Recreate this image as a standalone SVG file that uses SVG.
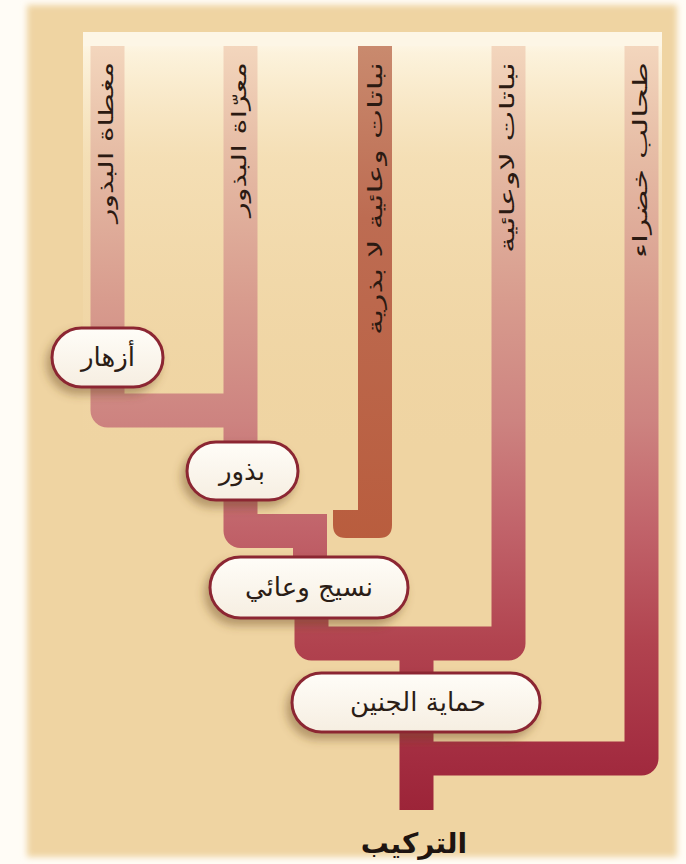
<svg xmlns="http://www.w3.org/2000/svg" width="686" height="864" viewBox="0 0 686 864">
<defs>
<linearGradient id="gPink" gradientUnits="userSpaceOnUse" x1="0" y1="46" x2="0" y2="812">
<stop offset="0" stop-color="#f3d6bd"/>
<stop offset="0.14" stop-color="#e6bca5"/>
<stop offset="0.33" stop-color="#d89c8e"/>
<stop offset="0.49" stop-color="#cd8380"/>
<stop offset="0.63" stop-color="#c1636a"/>
<stop offset="0.78" stop-color="#b1434f"/>
<stop offset="0.93" stop-color="#a32c40"/>
<stop offset="1" stop-color="#9c2438"/>
</linearGradient>
<linearGradient id="gBrown" gradientUnits="userSpaceOnUse" x1="0" y1="46" x2="0" y2="540">
<stop offset="0" stop-color="#c98a6e"/>
<stop offset="0.35" stop-color="#bd6c52"/>
<stop offset="1" stop-color="#b95d3e"/>
</linearGradient>
<linearGradient id="gGlow" x1="0" y1="0" x2="0" y2="1">
<stop offset="0" stop-color="#fffbf2" stop-opacity="1"/>
<stop offset="0.05" stop-color="#fdf4df" stop-opacity="0.95"/>
<stop offset="0.3" stop-color="#f8e6c2" stop-opacity="0.6"/>
<stop offset="1" stop-color="#f1d7a6" stop-opacity="0"/>
</linearGradient>
<linearGradient id="gNode" x1="0" y1="0" x2="0" y2="1">
<stop offset="0" stop-color="#fffdf8"/>
<stop offset="1" stop-color="#f6eee1"/>
</linearGradient>
<filter id="shadow" x="-30%" y="-30%" width="160%" height="190%">
<feDropShadow dx="-4" dy="6" stdDeviation="5" flood-color="#6b4a20" flood-opacity="0.45"/>
</filter>
<filter id="soft" x="-5%" y="-5%" width="110%" height="110%">
<feGaussianBlur stdDeviation="3"/>
</filter>
<style>
.bar{fill:none;stroke:url(#gPink);stroke-width:34;stroke-linejoin:round;stroke-linecap:butt}
.node rect{fill:url(#gNode);stroke:#8c2733;stroke-width:3;filter:url(#shadow)}
.node text{font-family:'DejaVu Sans',sans-serif;font-size:26px;fill:#2b1d16;text-anchor:middle}
.vlab{font-family:'DejaVu Sans',sans-serif;font-size:20px;fill:#2b1a12;text-anchor:end}
.title{font-family:'DejaVu Sans',sans-serif;font-size:28px;font-weight:bold;fill:#1e1410;text-anchor:middle}
</style>
</defs>

<rect x="0" y="0" width="686" height="864" fill="#fffcf6"/>
<rect x="27" y="5" width="650" height="852" fill="#efd4a2" filter="url(#soft)"/>
<rect x="83" y="32" width="579" height="420" fill="url(#gGlow)"/>

<g id="connectors">
<path class="bar" d="M107.5 46 V410.5 H240.5"/>
<path class="bar" d="M240.5 46 V531 H327"/>
<path class="bar" d="M310 531 V565"/>
<path id="brown" d="M358 46 H392 V525 Q392 538 379 538 H346 Q333 538 333 525 V510 H358 Z" fill="url(#gBrown)"/>
<path class="bar" d="M508.5 46 V643.5 H311.5 V600"/>
<path class="bar" d="M416.5 643.5 V690"/>
<path class="bar" d="M641.5 46 V758.5 H416.5"/>
<path class="bar" d="M416.5 700 V810"/>
</g>

<rect x="83" y="32" width="579" height="14" fill="#fdf6e6"/>

<g id="labels">
<text class="vlab" transform="translate(113,62) rotate(-90)" textLength="161" lengthAdjust="spacingAndGlyphs">مغطاة البذور</text>
<text class="vlab" transform="translate(246,62) rotate(-90)" textLength="155" lengthAdjust="spacingAndGlyphs">معرّاة البذور</text>
<text class="vlab" transform="translate(382,62) rotate(-90)" textLength="273" lengthAdjust="spacingAndGlyphs">نباتات وعائية لا بذرية</text>
<text class="vlab" transform="translate(514,62) rotate(-90)" textLength="191" lengthAdjust="spacingAndGlyphs">نباتات لاوعائية</text>
<text class="vlab" transform="translate(647,62) rotate(-90)" textLength="196" lengthAdjust="spacingAndGlyphs">طحالب خضراء</text>
</g>

<g id="node-flowers" class="node">
<rect x="52" y="328" width="111" height="59" rx="29.5"/>
<text x="108" y="366">أزهار</text>
</g>
<g id="node-seeds" class="node">
<rect x="187" y="442" width="111" height="58" rx="29"/>
<text x="242" y="480">بذور</text>
</g>
<g id="node-vascular" class="node">
<rect x="210" y="557" width="198" height="61" rx="30.5"/>
<text x="309" y="596">نسيج وعائي</text>
</g>
<g id="node-embryo" class="node">
<rect x="292" y="673" width="248" height="59" rx="29.5"/>
<text x="418" y="711">حماية الجنين</text>
</g>

<text id="title" class="title" x="414" y="853">التركيب</text>
</svg>
